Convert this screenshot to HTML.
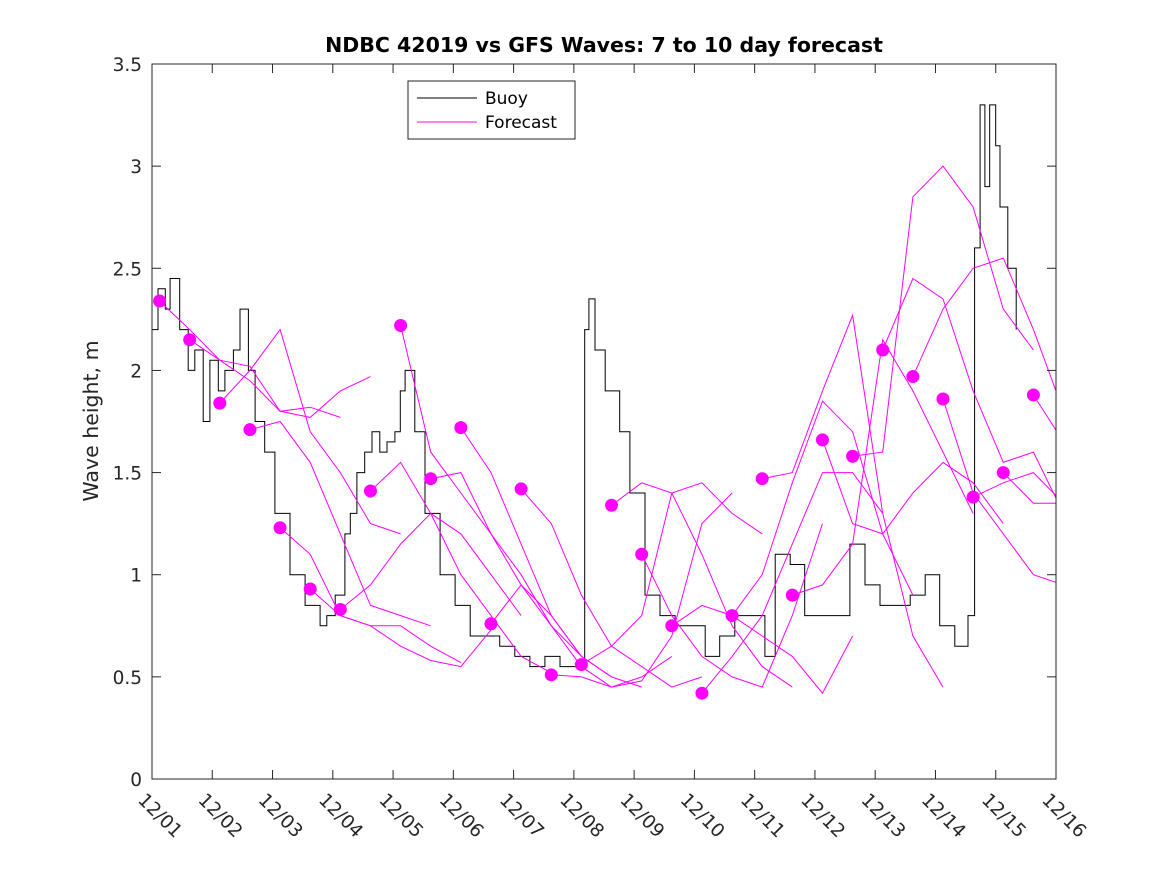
<!DOCTYPE html>
<html><head><meta charset="utf-8"><style>
body{margin:0;background:#fff;}
svg{display:block;font-family:"DejaVu Sans","Liberation Sans",sans-serif;}
</style></head><body>
<svg id="c" width="1167" height="875" viewBox="0 0 1167 875"></svg>
<script>
const xTicks=["12/01","12/02","12/03","12/04","12/05","12/06","12/07","12/08","12/09","12/10","12/11","12/12","12/13","12/14","12/15","12/16"];
const yTicks=[0,0.5,1,1.5,2,2.5,3,3.5];
const buoyDays=[0,0.1,0.22,0.3,0.46,0.6,0.71,0.85,0.96,1.1,1.21,1.35,1.46,1.6,1.71,1.87,2.04,2.29,2.54,2.79,2.9,3.04,3.2,3.29,3.4,3.53,3.65,3.78,3.9,4.03,4.12,4.2,4.36,4.53,4.78,5.03,5.28,5.53,5.77,6.02,6.27,6.52,6.77,7.02,7.18,7.25,7.35,7.52,7.76,7.93,8.18,8.43,8.68,8.93,9.18,9.42,9.67,9.92,10.17,10.34,10.59,10.83,11.08,11.33,11.58,11.83,12.08,12.33,12.58,12.83,13.07,13.32,13.54,13.65,13.74,13.82,13.9,14.0,14.07,14.2,14.34];
const buoy=[2.2,2.4,2.3,2.45,2.2,2.0,2.1,1.75,2.05,1.9,2.0,2.1,2.3,2.0,1.75,1.6,1.3,1.0,0.85,0.75,0.8,0.9,1.2,1.3,1.5,1.6,1.7,1.6,1.65,1.7,1.9,2.0,1.7,1.3,1.0,0.85,0.7,0.7,0.65,0.6,0.55,0.6,0.55,0.55,2.2,2.35,2.1,1.9,1.7,1.4,0.9,0.8,0.75,0.75,0.6,0.7,0.8,0.8,0.6,1.1,1.05,0.8,0.8,0.8,1.15,0.95,0.85,0.85,0.9,1.0,0.75,0.65,0.8,2.6,3.3,2.9,3.3,3.1,2.8,2.5,2.2];
const fcStart=0.125, fcSpacing=0.5, fcStep=0.5;
const fc=[
[2.34,2.2,2.05,1.95,1.8,1.82,1.77],
[2.15,2.05,2.02,1.8,1.77,1.9,1.97],
[1.84,2.0,2.2,1.7,1.5,1.25,1.2],
[1.71,1.75,1.55,1.2,0.85,0.8,0.75],
[1.23,1.1,0.8,0.75,0.75,0.65,0.57],
[0.93,0.8,0.75,0.65,0.58,0.55,0.73],
[0.83,0.95,1.15,1.3,1.2,1.0,0.8],
[1.41,1.55,1.3,1.0,0.8,0.6,0.52],
[2.22,1.6,1.4,1.2,1.0,0.75,0.6],
[1.47,1.5,1.2,0.95,0.8,0.6,0.5],
[1.72,1.5,1.15,0.8,0.6,0.5,0.45],
[0.76,0.95,0.75,0.55,0.45,0.5,0.6],
[1.42,1.25,0.9,0.65,0.55,0.45,0.5],
[0.51,0.5,0.45,0.48,0.7,1.25,1.4],
[0.56,0.65,0.8,1.4,1.45,1.3,1.2],
[1.34,1.45,1.4,1.1,0.75,0.55,0.45],
[1.10,0.8,0.6,0.5,0.45,0.8,1.25],
[0.75,0.85,0.8,0.7,0.6,0.42,0.7],
[0.42,0.6,0.8,1.15,1.5,1.5,1.3],
[0.80,1.0,1.45,1.85,1.7,1.2,0.9],
[1.47,1.5,1.9,2.27,1.3,0.7,0.45],
[0.90,0.95,1.15,2.15,1.9,1.6,1.3],
[1.66,1.25,1.2,1.4,1.55,1.45,1.25],
[1.58,1.6,2.85,3.0,2.8,2.3,2.1],
[2.10,2.45,2.35,1.9,1.55,1.6,1.3],
[1.97,2.3,2.5,2.55,2.2,1.8,1.45],
[1.86,1.4,1.2,1.0,0.95,0.85,0.72],
[1.38,1.45,1.5,1.35,1.0,0.85,0.8],
[1.50,1.35,1.35,1.5,1.45,1.4,1.3],
[1.88,1.65,1.55,1.5,1.45,1.4,1.3]
];
const NS="http://www.w3.org/2000/svg";
const svg=document.getElementById('c');
const L=152,R=1056,T=64,B=779;
const X=d=>L+(R-L)*d/15, Y=v=>B-(B-T)*v/3.5;
function el(t,a,p){const e=document.createElementNS(NS,t);for(const k in a)e.setAttribute(k,a[k]);(p||svg).appendChild(e);return e;}
const clip=el('clipPath',{id:'cl'});el('rect',{x:L,y:T,width:R-L,height:B-T},clip);
const g=el('g',{'clip-path':'url(#cl)'});
let d='';buoy.forEach((v,i)=>{const x=X(buoyDays[i]),y=Y(v);d+=(i?'H'+x.toFixed(1)+'V'+y.toFixed(1):'M'+x.toFixed(1)+','+y.toFixed(1));});
const bl=el('path',{d:d,fill:'none',stroke:'#000','stroke-width':1},g);


fc.forEach((arr,i)=>{const s=fcStart+i*fcSpacing;
 const p=el('polyline',{points:arr.map((v,j)=>X(s+j*fcStep).toFixed(1)+','+Y(v).toFixed(1)).join(' '),fill:'none',stroke:'#f0f','stroke-width':1},g);
 
 
 const c=el('circle',{cx:X(s),cy:Y(arr[0]),r:6.5,fill:'#f0f'},g);
 
 
});
const fr=el('rect',{x:L,y:T,width:R-L,height:B-T,fill:'none',stroke:'#262626','stroke-width':1});


yTicks.forEach(v=>{const y=Y(v);el('line',{x1:L,x2:L+9,y1:y,y2:y,stroke:'#262626'});el('line',{x1:R,x2:R-9,y1:y,y2:y,stroke:'#262626'});
 const t=el('text',{x:L-10,y:y+7,'text-anchor':'end','font-size':18.5,fill:'#262626'});t.textContent=v;
 
 });
xTicks.forEach((s,i)=>{const x=X(i);el('line',{x1:x,x2:x,y1:B,y2:B-9,stroke:'#262626'});el('line',{x1:x,x2:x,y1:T,y2:T+9,stroke:'#262626'});
 const t=el('text',{x:x-15,y:B+22,'font-size':18.5,fill:'#262626',transform:`rotate(45 ${x-15} ${B+22})`});t.textContent=s;
 
 });
</script>
<svg style="position:absolute;left:0;top:0" width="1167" height="875">
<text x="604" y="52" text-anchor="middle" font-size="20.5" font-weight="bold" fill="#000" font-family="DejaVu Sans,sans-serif">NDBC 42019 vs GFS Waves: 7 to 10 day forecast</text>
<text transform="translate(98 421) rotate(-90)" text-anchor="middle" font-size="20.5" fill="#262626" font-family="DejaVu Sans,sans-serif">Wave height, m</text>
<g>
<rect x="408" y="81" width="167" height="58" fill="#fff" stroke="#262626"/>
<line x1="417" x2="477" y1="98" y2="98" stroke="#000"/>
<text x="485" y="104" font-size="17" fill="#000" font-family="DejaVu Sans,sans-serif">Buoy</text>
<line x1="417" x2="477" y1="122" y2="122" stroke="#f0f"/>
<text x="485" y="128" font-size="17" fill="#000" font-family="DejaVu Sans,sans-serif">Forecast</text>
</g>
</svg>
</body></html>
